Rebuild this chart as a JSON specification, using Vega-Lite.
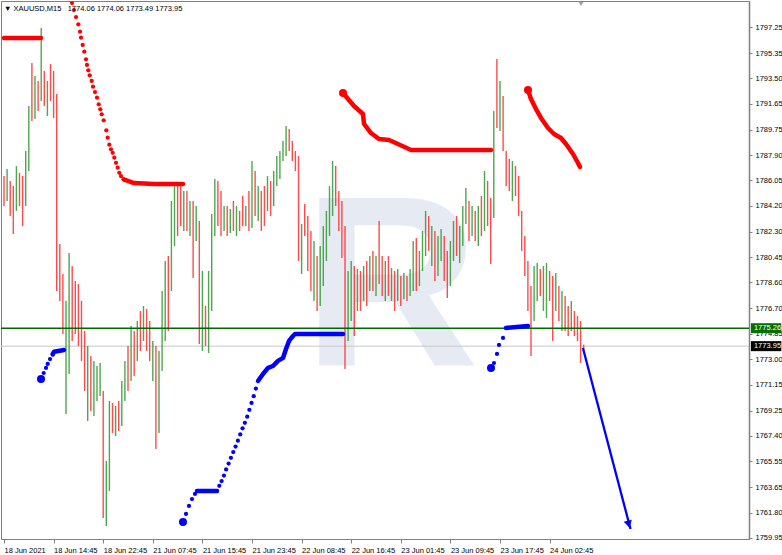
{
  "$schema": "https://vega.github.io/schema/vega-lite/v6.json",
  "width": 748,
  "height": 538,
  "padding": 0,
  "autosize": {"type": "pad"},
  "background": "#ffffff",
  "config": {
    "view": {"stroke": "#808080", "strokeWidth": 1},
    "axis": {"grid": false, "labelFont": "Liberation Sans", "labelFontSize": 7.5, "labelColor": "#000000", "domainColor": "#808080", "tickColor": "#808080", "labelOverlap": false, "labelBound": false, "labelFlush": false}
  },
  "resolve": {"scale": {"color": "independent"}},
  "datasets": {
    "candles": [
      {"t":0,"h":1786.37,"l":1784.18,"d":"d"},{"t":2,"h":1786.88,"l":1784.55,"d":"u"},{"t":4,"h":1786.01,"l":1783.45,"d":"d"},{"t":6,"h":1785.64,"l":1782.14,"d":"d"},
      {"t":8,"h":1787.10,"l":1783.82,"d":"u"},{"t":10,"h":1786.59,"l":1784.18,"d":"d"},{"t":12,"h":1786.37,"l":1782.72,"d":"d"},{"t":14,"h":1788.20,"l":1784.18,"d":"u"},
      {"t":16,"h":1791.48,"l":1786.74,"d":"u"},{"t":18,"h":1794.62,"l":1790.39,"d":"d"},{"t":20,"h":1793.67,"l":1790.53,"d":"u"},{"t":22,"h":1793.31,"l":1791.12,"d":"d"},
      {"t":24,"h":1797.18,"l":1791.85,"d":"u"},{"t":26,"h":1794.04,"l":1791.48,"d":"d"},{"t":28,"h":1793.31,"l":1790.75,"d":"u"},{"t":30,"h":1794.55,"l":1791.85,"d":"d"},
      {"t":32,"h":1794.04,"l":1790.61,"d":"d"},{"t":34,"h":1792.36,"l":1777.98,"d":"d"},{"t":36,"h":1781.41,"l":1777.25,"d":"d"},{"t":38,"h":1779.22,"l":1774.84,"d":"d"},
      {"t":40,"h":1777.25,"l":1769.00,"d":"u"},{"t":42,"h":1780.75,"l":1771.92,"d":"u"},{"t":44,"h":1779.80,"l":1774.33,"d":"d"},{"t":46,"h":1778.71,"l":1774.84,"d":"d"},
      {"t":48,"h":1778.49,"l":1773.96,"d":"d"},{"t":50,"h":1777.25,"l":1772.87,"d":"d"},{"t":52,"h":1775.06,"l":1770.68,"d":"d"},{"t":54,"h":1773.96,"l":1768.49,"d":"u"},
      {"t":56,"h":1773.23,"l":1769.22,"d":"d"},{"t":58,"h":1772.87,"l":1768.85,"d":"u"},{"t":60,"h":1772.50,"l":1769.95,"d":"u"},{"t":62,"h":1772.72,"l":1770.31,"d":"u"},
      {"t":64,"h":1770.68,"l":1761.41,"d":"d"},{"t":66,"h":1765.57,"l":1760.82,"d":"u"},{"t":68,"h":1769.95,"l":1763.38,"d":"u"},{"t":70,"h":1769.80,"l":1767.61,"d":"d"},
      {"t":72,"h":1769.58,"l":1767.39,"d":"u"},{"t":74,"h":1769.95,"l":1767.76,"d":"d"},{"t":76,"h":1771.41,"l":1768.12,"d":"u"},{"t":78,"h":1772.87,"l":1769.95,"d":"u"},
      {"t":80,"h":1773.96,"l":1770.68,"d":"d"},{"t":82,"h":1775.42,"l":1771.41,"d":"u"},{"t":84,"h":1775.06,"l":1771.77,"d":"d"},{"t":86,"h":1775.79,"l":1772.87,"d":"u"},
      {"t":88,"h":1776.52,"l":1773.60,"d":"d"},{"t":90,"h":1776.88,"l":1774.33,"d":"u"},{"t":92,"h":1776.66,"l":1773.60,"d":"d"},{"t":94,"h":1775.79,"l":1772.87,"d":"d"},
      {"t":96,"h":1774.33,"l":1771.41,"d":"u"},{"t":98,"h":1773.96,"l":1766.44,"d":"d"},{"t":100,"h":1773.60,"l":1767.61,"d":"u"},{"t":102,"h":1777.98,"l":1772.14,"d":"u"},
      {"t":104,"h":1780.17,"l":1774.33,"d":"u"},{"t":106,"h":1780.53,"l":1775.06,"d":"d"},{"t":108,"h":1784.55,"l":1777.98,"d":"u"},{"t":110,"h":1785.64,"l":1781.26,"d":"u"},
      {"t":112,"h":1785.79,"l":1781.99,"d":"d"},{"t":114,"h":1785.64,"l":1782.72,"d":"d"},{"t":116,"h":1785.28,"l":1782.36,"d":"u"},{"t":118,"h":1785.28,"l":1782.36,"d":"d"},
      {"t":120,"h":1784.55,"l":1781.99,"d":"u"},{"t":122,"h":1784.55,"l":1778.93,"d":"d"},{"t":124,"h":1784.18,"l":1781.63,"d":"u"},{"t":126,"h":1783.09,"l":1774.11,"d":"d"},
      {"t":128,"h":1779.44,"l":1773.60,"d":"u"},{"t":130,"h":1776.88,"l":1773.96,"d":"d"},{"t":132,"h":1779.44,"l":1773.45,"d":"u"},{"t":134,"h":1783.60,"l":1776.52,"d":"u"},
      {"t":136,"h":1786.15,"l":1781.99,"d":"u"},{"t":138,"h":1786.01,"l":1782.72,"d":"d"},{"t":140,"h":1785.28,"l":1781.99,"d":"d"},{"t":142,"h":1784.18,"l":1782.36,"d":"u"},
      {"t":144,"h":1784.18,"l":1781.99,"d":"d"},{"t":146,"h":1783.96,"l":1782.21,"d":"u"},{"t":148,"h":1784.55,"l":1782.36,"d":"d"},{"t":150,"h":1784.18,"l":1781.99,"d":"u"},
      {"t":152,"h":1783.82,"l":1782.36,"d":"d"},{"t":154,"h":1784.91,"l":1782.72,"d":"d"},{"t":156,"h":1784.18,"l":1782.72,"d":"u"},{"t":158,"h":1785.28,"l":1782.36,"d":"d"},
      {"t":160,"h":1787.47,"l":1782.58,"d":"u"},{"t":162,"h":1786.74,"l":1783.45,"d":"d"},{"t":164,"h":1785.64,"l":1783.09,"d":"u"},{"t":166,"h":1785.28,"l":1782.36,"d":"d"},
      {"t":168,"h":1785.64,"l":1782.72,"d":"d"},{"t":170,"h":1786.37,"l":1783.82,"d":"u"},{"t":172,"h":1786.01,"l":1783.45,"d":"d"},{"t":174,"h":1786.74,"l":1784.18,"d":"u"},
      {"t":176,"h":1787.83,"l":1785.64,"d":"u"},{"t":178,"h":1788.20,"l":1786.15,"d":"u"},{"t":180,"h":1788.93,"l":1787.47,"d":"u"},{"t":182,"h":1790.02,"l":1787.83,"d":"u"},
      {"t":184,"h":1789.80,"l":1788.20,"d":"d"},{"t":186,"h":1788.93,"l":1787.47,"d":"d"},{"t":188,"h":1788.20,"l":1786.74,"d":"d"},{"t":190,"h":1787.83,"l":1780.17,"d":"d"},
      {"t":192,"h":1782.87,"l":1779.22,"d":"u"},{"t":194,"h":1784.33,"l":1781.99,"d":"d"},{"t":196,"h":1783.45,"l":1779.44,"d":"d"},{"t":198,"h":1782.36,"l":1777.98,"d":"d"},
      {"t":200,"h":1781.63,"l":1777.25,"d":"u"},{"t":202,"h":1780.53,"l":1776.52,"d":"d"},{"t":204,"h":1781.26,"l":1776.88,"d":"u"},{"t":206,"h":1782.72,"l":1778.34,"d":"u"},
      {"t":208,"h":1783.82,"l":1780.17,"d":"u"},{"t":210,"h":1785.64,"l":1781.99,"d":"u"},{"t":212,"h":1787.47,"l":1783.45,"d":"u"},{"t":214,"h":1787.10,"l":1784.18,"d":"d"},
      {"t":216,"h":1785.28,"l":1782.36,"d":"d"},{"t":218,"h":1784.55,"l":1780.39,"d":"d"},{"t":220,"h":1782.72,"l":1772.28,"d":"d"},{"t":222,"h":1779.44,"l":1774.33,"d":"u"},
      {"t":224,"h":1780.17,"l":1775.79,"d":"u"},{"t":226,"h":1779.80,"l":1774.69,"d":"d"},{"t":228,"h":1779.58,"l":1776.52,"d":"u"},{"t":230,"h":1779.44,"l":1776.52,"d":"d"},
      {"t":232,"h":1779.80,"l":1777.25,"d":"u"},{"t":234,"h":1780.17,"l":1776.88,"d":"d"},{"t":236,"h":1780.53,"l":1777.98,"d":"u"},{"t":238,"h":1780.90,"l":1777.98,"d":"d"},
      {"t":240,"h":1780.53,"l":1777.61,"d":"u"},{"t":242,"h":1783.09,"l":1778.49,"d":"d"},{"t":244,"h":1780.53,"l":1777.61,"d":"d"},{"t":246,"h":1780.17,"l":1777.25,"d":"u"},
      {"t":248,"h":1780.53,"l":1777.61,"d":"d"},{"t":250,"h":1779.66,"l":1777.25,"d":"u"},{"t":252,"h":1779.44,"l":1776.52,"d":"d"},{"t":254,"h":1779.58,"l":1777.25,"d":"u"},
      {"t":256,"h":1779.07,"l":1776.88,"d":"d"},{"t":258,"h":1779.29,"l":1777.39,"d":"u"},{"t":260,"h":1779.07,"l":1777.25,"d":"d"},{"t":262,"h":1779.58,"l":1777.61,"d":"u"},
      {"t":264,"h":1781.63,"l":1777.98,"d":"u"},{"t":266,"h":1781.85,"l":1777.98,"d":"d"},{"t":268,"h":1780.90,"l":1778.34,"d":"u"},{"t":270,"h":1782.36,"l":1779.44,"d":"u"},
      {"t":272,"h":1783.82,"l":1780.53,"d":"u"},{"t":274,"h":1783.45,"l":1780.90,"d":"d"},{"t":276,"h":1782.72,"l":1779.80,"d":"u"},{"t":278,"h":1782.36,"l":1778.71,"d":"d"},
      {"t":280,"h":1781.99,"l":1779.07,"d":"u"},{"t":282,"h":1782.50,"l":1780.17,"d":"u"},{"t":284,"h":1781.99,"l":1778.71,"d":"d"},{"t":286,"h":1780.90,"l":1777.47,"d":"d"},
      {"t":288,"h":1781.63,"l":1778.34,"d":"u"},{"t":290,"h":1783.09,"l":1780.17,"d":"u"},{"t":292,"h":1783.45,"l":1780.53,"d":"d"},{"t":294,"h":1782.72,"l":1780.02,"d":"u"},
      {"t":296,"h":1784.18,"l":1781.26,"d":"u"},{"t":298,"h":1785.50,"l":1782.87,"d":"u"},{"t":300,"h":1784.55,"l":1781.63,"d":"d"},{"t":302,"h":1784.18,"l":1781.99,"d":"u"},
      {"t":304,"h":1783.82,"l":1781.63,"d":"d"},{"t":306,"h":1784.18,"l":1781.26,"d":"u"},{"t":308,"h":1784.91,"l":1781.99,"d":"d"},{"t":310,"h":1786.74,"l":1782.36,"d":"u"},
      {"t":312,"h":1786.01,"l":1782.72,"d":"d"},{"t":314,"h":1784.77,"l":1779.95,"d":"d"},{"t":316,"h":1791.12,"l":1783.31,"d":"u"},{"t":318,"h":1794.91,"l":1789.88,"d":"d"},
      {"t":320,"h":1793.31,"l":1789.66,"d":"u"},{"t":322,"h":1792.21,"l":1788.20,"d":"d"},{"t":324,"h":1788.20,"l":1785.64,"d":"d"},{"t":326,"h":1787.61,"l":1785.28,"d":"d"},
      {"t":328,"h":1787.47,"l":1784.55,"d":"u"},{"t":330,"h":1787.10,"l":1784.91,"d":"d"},{"t":332,"h":1786.37,"l":1783.45,"d":"d"},{"t":334,"h":1783.82,"l":1780.90,"d":"d"},
      {"t":336,"h":1781.99,"l":1779.07,"d":"d"},{"t":338,"h":1780.17,"l":1776.52,"d":"d"},{"t":340,"h":1778.34,"l":1773.23,"d":"d"},{"t":342,"h":1779.80,"l":1775.79,"d":"u"},
      {"t":344,"h":1780.02,"l":1777.25,"d":"u"},{"t":346,"h":1779.58,"l":1777.61,"d":"d"},{"t":348,"h":1779.80,"l":1776.52,"d":"u"},{"t":350,"h":1780.02,"l":1776.01,"d":"u"},
      {"t":352,"h":1779.44,"l":1777.25,"d":"d"},{"t":354,"h":1779.07,"l":1774.33,"d":"d"},{"t":356,"h":1779.29,"l":1776.52,"d":"u"},{"t":358,"h":1778.34,"l":1775.79,"d":"d"},
      {"t":360,"h":1777.98,"l":1775.06,"d":"u"},{"t":362,"h":1777.61,"l":1775.06,"d":"d"},{"t":364,"h":1776.88,"l":1774.69,"d":"d"},{"t":366,"h":1777.25,"l":1775.06,"d":"u"},
      {"t":368,"h":1776.52,"l":1774.69,"d":"d"},{"t":370,"h":1776.15,"l":1774.33,"d":"d"},{"t":372,"h":1775.79,"l":1772.72,"d":"d"},{"t":374,"h":1774.06,"l":1773.49,"d":"d"}
    ],
    "slines": [
      {"t":0,"p":1796.45,"g":"r1","c":"r"},{"t":23.87,"p":1796.45,"g":"r1","c":"r"},
      {"t":77.23,"p":1786.13,"g":"r2","c":"r"},{"t":83.87,"p":1785.86,"g":"r2","c":"r"},{"t":96.77,"p":1785.79,"g":"r2","c":"r"},{"t":115.48,"p":1785.79,"g":"r2","c":"r"},
      {"t":218.71,"p":1792.43,"g":"r3","c":"r"},{"t":225.81,"p":1791.48,"g":"r3","c":"r"},{"t":231.61,"p":1790.90,"g":"r3","c":"r"},{"t":232.26,"p":1790.17,"g":"r3","c":"r"},
      {"t":236.77,"p":1789.51,"g":"r3","c":"r"},{"t":241.94,"p":1789.07,"g":"r3","c":"r"},{"t":248.39,"p":1789.00,"g":"r3","c":"r"},{"t":254.19,"p":1788.71,"g":"r3","c":"r"},
      {"t":262.58,"p":1788.27,"g":"r3","c":"r"},{"t":314.19,"p":1788.27,"g":"r3","c":"r"},
      {"t":338.06,"p":1792.65,"g":"r4","c":"r"},{"t":340,"p":1791.99,"g":"r4","c":"r"},{"t":343.23,"p":1791.26,"g":"r4","c":"r"},{"t":346.45,"p":1790.61,"g":"r4","c":"r"},
      {"t":350.97,"p":1789.88,"g":"r4","c":"r"},{"t":354.84,"p":1789.44,"g":"r4","c":"r"},{"t":359.35,"p":1789.15,"g":"r4","c":"r"},{"t":362.58,"p":1788.71,"g":"r4","c":"r"},
      {"t":367.1,"p":1787.98,"g":"r4","c":"r"},{"t":370.32,"p":1787.32,"g":"r4","c":"r"},{"t":371.61,"p":1787.03,"g":"r4","c":"r"},
      {"t":31.42,"p":1773.35,"g":"b1","c":"b"},{"t":32.26,"p":1773.54,"g":"b1","c":"b"},{"t":38.71,"p":1773.67,"g":"b1","c":"b"},
      {"t":124.52,"p":1763.38,"g":"b2","c":"b"},{"t":137.42,"p":1763.38,"g":"b2","c":"b"},
      {"t":163.87,"p":1771.41,"g":"b2b","c":"b"},{"t":167.10,"p":1771.92,"g":"b2b","c":"b"},
      {"t":170.32,"p":1772.36,"g":"b2b","c":"b"},{"t":173.55,"p":1772.50,"g":"b2b","c":"b"},{"t":176.77,"p":1772.87,"g":"b2b","c":"b"},{"t":180,"p":1773.09,"g":"b2b","c":"b"},
      {"t":181.94,"p":1773.74,"g":"b2b","c":"b"},{"t":183.87,"p":1774.33,"g":"b2b","c":"b"},{"t":186.45,"p":1774.69,"g":"b2b","c":"b"},{"t":187.74,"p":1774.84,"g":"b2b","c":"b"},
      {"t":218.71,"p":1774.84,"g":"b2b","c":"b"},
      {"t":323.87,"p":1775.28,"g":"b3","c":"b"},{"t":338.06,"p":1775.42,"g":"b3","c":"b"}
    ],
    "sdots": [
      {"t":43.87,"p":1799.00,"c":"r"},{"t":45.16,"p":1798.49,"c":"r"},{"t":46.45,"p":1797.98,"c":"r"},{"t":47.94,"p":1797.45,"c":"r"},
      {"t":49.03,"p":1796.91,"c":"r"},{"t":49.68,"p":1796.47,"c":"r"},{"t":50.77,"p":1795.94,"c":"r"},{"t":51.81,"p":1795.45,"c":"r"},
      {"t":52.90,"p":1794.89,"c":"r"},{"t":53.55,"p":1794.48,"c":"r"},{"t":54.39,"p":1794.09,"c":"r"},{"t":55.29,"p":1793.72,"c":"r"},
      {"t":56.58,"p":1793.31,"c":"r"},{"t":57.42,"p":1792.89,"c":"r"},{"t":58.71,"p":1792.50,"c":"r"},{"t":60.00,"p":1792.09,"c":"r"},
      {"t":61.10,"p":1791.61,"c":"r"},{"t":62.13,"p":1791.24,"c":"r"},{"t":63.03,"p":1790.88,"c":"r"},{"t":64.32,"p":1790.44,"c":"r"},
      {"t":66.00,"p":1789.71,"c":"r"},{"t":66.90,"p":1789.17,"c":"r"},{"t":67.94,"p":1788.66,"c":"r"},{"t":69.03,"p":1788.32,"c":"r"},
      {"t":70.13,"p":1788.07,"c":"r"},{"t":71.16,"p":1787.71,"c":"r"},{"t":72.26,"p":1787.34,"c":"r"},{"t":73.35,"p":1786.98,"c":"r"},
      {"t":74.39,"p":1786.61,"c":"r"},{"t":75.48,"p":1786.37,"c":"r"},{"t":77.23,"p":1786.13,"c":"r"},
      {"t":25.61,"p":1771.99,"c":"b"},{"t":27.10,"p":1772.36,"c":"b"},{"t":28.19,"p":1772.65,"c":"b"},{"t":29.68,"p":1773.01,"c":"b"},{"t":31.42,"p":1773.38,"c":"b"},
      {"t":117.42,"p":1761.70,"c":"b"},{"t":119.35,"p":1762.28,"c":"b"},{"t":121.29,"p":1762.79,"c":"b"},{"t":123.23,"p":1763.16,"c":"b"},
      {"t":138.9,"p":1763.75,"c":"b"},{"t":140.4,"p":1764.10,"c":"b"},{"t":141.9,"p":1764.50,"c":"b"},{"t":143.3,"p":1764.95,"c":"b"},
      {"t":144.9,"p":1765.38,"c":"b"},{"t":146.4,"p":1765.80,"c":"b"},{"t":147.9,"p":1766.22,"c":"b"},{"t":149.4,"p":1766.62,"c":"b"},
      {"t":150.9,"p":1767.05,"c":"b"},{"t":152.4,"p":1767.50,"c":"b"},{"t":153.9,"p":1767.95,"c":"b"},{"t":155.4,"p":1768.35,"c":"b"},
      {"t":156.9,"p":1768.80,"c":"b"},{"t":158.3,"p":1769.30,"c":"b"},{"t":159.7,"p":1769.80,"c":"b"},{"t":161.1,"p":1770.30,"c":"b"},
      {"t":162.5,"p":1770.85,"c":"b"},
      {"t":316.13,"p":1772.72,"c":"b"},{"t":318.06,"p":1773.38,"c":"b"},{"t":319.35,"p":1774.04,"c":"b"},{"t":321.94,"p":1774.55,"c":"b"}
    ],
    "big": [
      {"t":218.71,"p":1792.43,"c":"r"},{"t":338.06,"p":1792.65,"c":"r"},
      {"t":23.87,"p":1771.55,"c":"b"},{"t":115.48,"p":1761.12,"c":"b"},{"t":314.19,"p":1772.36,"c":"b"}
    ]
  },
  "layer": [
    {
      "data": {"values": [{"s": "R"}]},
      "mark": {"type": "text", "font": "Liberation Sans", "fontWeight": "bold", "fontSize": 244, "align": "center", "baseline": "alphabetic", "color": "#e6ebf3"},
      "encoding": {
        "x": {"datum": 249.7, "type": "quantitative", "scale": {"domain": [-1.94, 480.65], "nice": false, "zero": false}},
        "y": {"datum": 1772.5, "type": "quantitative", "scale": {"domain": [1759.87, 1799.15], "nice": false, "zero": false}},
        "text": {"field": "s"}
      }
    },
    {
      "data": {"values": [{"p": 1773.95}]},
      "mark": {"type": "rule", "color": "#c8c8c8", "strokeWidth": 1},
      "encoding": {
        "y": {"field": "p", "type": "quantitative", "title": null, "scale": {"domain": [1759.87, 1799.15], "nice": false, "zero": false}}
      }
    },
    {
      "data": {"name": "candles"},
      "mark": {"type": "rule", "strokeWidth": 1.4, "opacity": 0.85},
      "encoding": {
        "x": {"field": "t", "type": "quantitative", "title": null,
          "scale": {"domain": [-1.94, 480.65], "nice": false, "zero": false},
          "axis": {"orient": "bottom", "values": [0,32,64,96,128,160,192,224,256,288,320,352], "tickCount": 40,
            "labelExpr": "['18 Jun 2021','18 Jun 14:45','18 Jun 22:45','21 Jun 07:45','21 Jun 15:45','21 Jun 23:45','22 Jun 08:45','22 Jun 16:45','23 Jun 01:45','23 Jun 09:45','23 Jun 17:45','24 Jun 02:45'][round(datum.value/32)]",
            "labelAlign": "left", "labelPadding": 3, "tickSize": 4, "labelOverlap": false, "labelFlush": false, "domainWidth": 1}},
        "y": {"field": "h", "type": "quantitative", "title": null,
          "scale": {"domain": [1759.87, 1799.15], "nice": false, "zero": false},
          "axis": {"orient": "right", "values": [1797.25,1795.35,1793.50,1791.65,1789.75,1787.90,1786.05,1784.20,1782.30,1780.45,1778.60,1776.70,1774.85,1773.00,1771.15,1769.25,1767.40,1765.55,1763.65,1761.80,1759.95], "tickCount": 40,
            "format": ".2f", "tickSize": 3, "labelPadding": 3, "labelOverlap": false, "labelFlush": false, "labelBound": false, "domainWidth": 1.5}},
        "y2": {"field": "l"},
        "color": {"field": "d", "type": "nominal", "scale": {"domain": ["u", "d"], "range": ["#2f962f", "#ff2b2b"]}, "legend": null}
      }
    },
    {
      "data": {"values": [{"p": 1775.26}]},
      "mark": {"type": "rule", "color": "#006a00", "strokeWidth": 1.5},
      "encoding": {
        "y": {"field": "p", "type": "quantitative", "title": null, "scale": {"domain": [1759.87, 1799.15], "nice": false, "zero": false}}
      }
    },
    {
      "data": {"name": "slines"},
      "mark": {"type": "line", "strokeWidth": 4.5, "strokeCap": "round", "strokeJoin": "round"},
      "encoding": {
        "x": {"field": "t", "type": "quantitative", "title": null, "scale": {"domain": [-1.94, 480.65], "nice": false, "zero": false}},
        "y": {"field": "p", "type": "quantitative", "title": null, "scale": {"domain": [1759.87, 1799.15], "nice": false, "zero": false}},
        "detail": {"field": "g"},
        "color": {"field": "c", "type": "nominal", "scale": {"domain": ["r", "b"], "range": ["#ff0000", "#0000ff"]}, "legend": null}
      }
    },
    {
      "data": {"name": "sdots"},
      "mark": {"type": "point", "filled": true, "size": 18, "opacity": 1},
      "encoding": {
        "x": {"field": "t", "type": "quantitative", "title": null, "scale": {"domain": [-1.94, 480.65], "nice": false, "zero": false}},
        "y": {"field": "p", "type": "quantitative", "title": null, "scale": {"domain": [1759.87, 1799.15], "nice": false, "zero": false}},
        "color": {"field": "c", "type": "nominal", "scale": {"domain": ["r", "b"], "range": ["#ff0000", "#0000ff"]}, "legend": null}
      }
    },
    {
      "data": {"name": "big"},
      "mark": {"type": "point", "filled": true, "size": 64, "opacity": 1},
      "encoding": {
        "x": {"field": "t", "type": "quantitative", "title": null, "scale": {"domain": [-1.94, 480.65], "nice": false, "zero": false}},
        "y": {"field": "p", "type": "quantitative", "title": null, "scale": {"domain": [1759.87, 1799.15], "nice": false, "zero": false}},
        "color": {"field": "c", "type": "nominal", "scale": {"domain": ["r", "b"], "range": ["#ff0000", "#0000ff"]}, "legend": null}
      }
    },
    {
      "data": {"values": [{"t": 373.5, "p": 1773.82}, {"t": 404.2, "p": 1760.6}]},
      "mark": {"type": "line", "color": "#0000ff", "strokeWidth": 2.3},
      "encoding": {
        "x": {"field": "t", "type": "quantitative", "title": null, "scale": {"domain": [-1.94, 480.65], "nice": false, "zero": false}},
        "y": {"field": "p", "type": "quantitative", "title": null, "scale": {"domain": [1759.87, 1799.15], "nice": false, "zero": false}}
      }
    },
    {
      "data": {"values": [{"t": 403.0, "p": 1760.95}]},
      "mark": {"type": "point", "shape": "triangle-down", "filled": true, "color": "#0000ff", "size": 70, "angle": 345.5, "opacity": 1},
      "encoding": {
        "x": {"field": "t", "type": "quantitative", "title": null, "scale": {"domain": [-1.94, 480.65], "nice": false, "zero": false}},
        "y": {"field": "p", "type": "quantitative", "title": null, "scale": {"domain": [1759.87, 1799.15], "nice": false, "zero": false}}
      }
    },
    {
      "data": {"values": [{"s": "▼ XAUUSD,M15\u00a0\u00a0 1774.06 1774.06 1773.49 1773.95"}]},
      "mark": {"type": "text", "font": "Liberation Sans", "fontSize": 7.5, "align": "left", "baseline": "middle", "color": "#000000", "dx": 3, "dy": 8},
      "encoding": {
        "x": {"datum": -1.94, "type": "quantitative", "scale": {"domain": [-1.94, 480.65], "nice": false, "zero": false}},
        "y": {"datum": 1799.15, "type": "quantitative", "scale": {"domain": [1759.87, 1799.15], "nice": false, "zero": false}},
        "text": {"field": "s"}
      }
    },
    {
      "data": {"values": [{"s": "x"}]},
      "mark": {"type": "point", "shape": "triangle-down", "filled": true, "color": "#a0a0a0", "size": 22, "yOffset": 3, "opacity": 1},
      "encoding": {
        "x": {"datum": 372.3, "type": "quantitative", "scale": {"domain": [-1.94, 480.65], "nice": false, "zero": false}},
        "y": {"datum": 1799.15, "type": "quantitative", "scale": {"domain": [1759.87, 1799.15], "nice": false, "zero": false}}
      }
    },
    {
      "data": {"values": [{"p": 1775.26, "k": "g"}, {"p": 1773.95, "k": "k"}]},
      "mark": {"type": "rect", "yOffset": -5, "y2Offset": 5},
      "encoding": {
        "x": {"datum": 481.9, "type": "quantitative", "scale": {"domain": [-1.94, 480.65], "nice": false, "zero": false}},
        "x2": {"datum": 501.5},
        "y": {"field": "p", "type": "quantitative", "title": null, "scale": {"domain": [1759.87, 1799.15], "nice": false, "zero": false}},
        "y2": {"field": "p"},
        "color": {"field": "k", "type": "nominal", "scale": {"domain": ["g", "k"], "range": ["#007000", "#000000"]}, "legend": null}
      }
    },
    {
      "data": {"values": [{"p": 1775.26, "s": "1775.26"}, {"p": 1773.95, "s": "1773.95"}]},
      "mark": {"type": "text", "font": "Liberation Sans", "fontSize": 7.5, "align": "left", "baseline": "middle", "color": "#ffffff", "dx": 3},
      "encoding": {
        "x": {"datum": 481.9, "type": "quantitative", "scale": {"domain": [-1.94, 480.65], "nice": false, "zero": false}},
        "y": {"field": "p", "type": "quantitative", "title": null, "scale": {"domain": [1759.87, 1799.15], "nice": false, "zero": false}},
        "text": {"field": "s"}
      }
    }
  ]
}
